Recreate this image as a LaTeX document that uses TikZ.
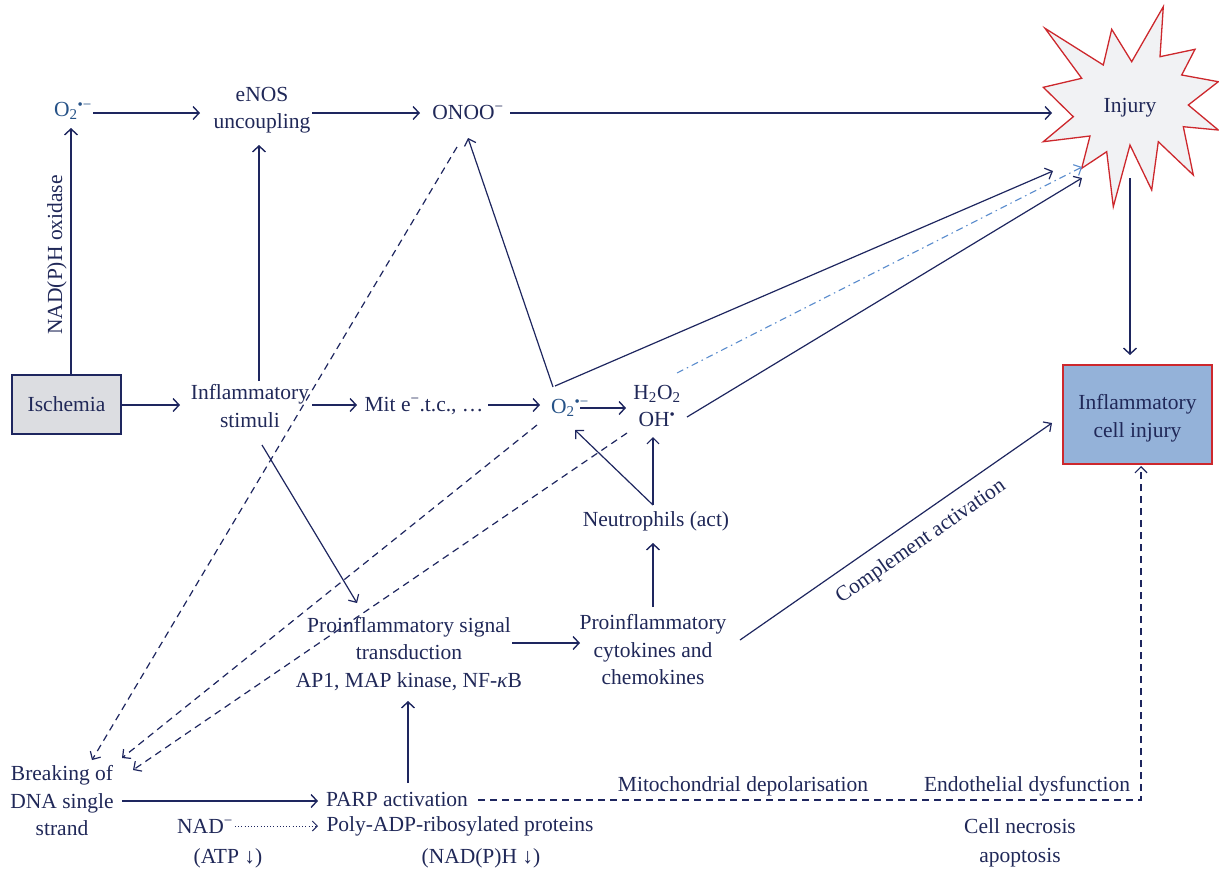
\documentclass[tikz,border=0pt]{standalone}
\usepackage{fontspec}
\setmainfont{Liberation Serif}
\usetikzlibrary{arrows.meta}
\definecolor{txt}{RGB}{32,40,88}
\definecolor{oxy}{RGB}{38,82,135}
\definecolor{ln}{RGB}{30,38,95}
\definecolor{dd}{RGB}{90,140,205}
\definecolor{starred}{RGB}{205,40,45}
\definecolor{starfill}{RGB}{241,242,244}
\definecolor{boxblue}{RGB}{148,178,217}
\definecolor{ischfill}{RGB}{220,221,225}
\begin{document}
\begin{tikzpicture}[x=1pt,y=-1pt,
  lbl/.style={text=txt, font=\fontsize{21.5}{27.5}\selectfont, align=center, inner sep=0pt},
  oxl/.style={lbl, text=oxy},
  arr/.style={draw=ln, line width=1.7pt, -{Straight Barb[length=6pt,width=13pt,line width=1.4pt]}},
  tarr/.style={draw=ln, line width=1.2pt, -{Straight Barb[length=6pt,width=12pt,line width=1.2pt]}},
  dsh/.style={tarr, dash pattern=on 7pt off 5pt},
  ddot/.style={draw=dd, line width=1.1pt, dash pattern=on 7pt off 4pt on 1.5pt off 4pt, -{Straight Barb[length=6pt,width=12pt,line width=1.1pt]}},
]
\useasboundingbox (0,0) rectangle (1219,871);
% star
\draw[starred, fill=starfill, line width=1.3pt, line join=miter]
 (1045,28.3) -- (1103.3,65) -- (1111.7,29.3) -- (1131.7,61.7) -- (1163.3,6.7) -- (1160,56.7)
 -- (1195,49.3) -- (1181.7,75) -- (1218.3,81.7) -- (1188.3,105) -- (1218.3,130) -- (1183.3,126.7)
 -- (1193.3,175) -- (1158.3,141.7) -- (1151.7,190) -- (1130,145) -- (1113.3,206.7) -- (1106.7,151.7)
 -- (1081.7,168.3) -- (1090,136) -- (1043.3,141.7) -- (1073.3,116.7) -- (1043.3,87.3) -- (1081.7,78.3) -- cycle;
\coordinate (injW) at (1052,113);
\coordinate (injA) at (1053,171);
\coordinate (injB) at (1082,167);
\coordinate (injC) at (1082,178);
\coordinate (injS) at (1130,178);
% nodes
\node[lbl] (inj) at (1130,108) {Injury};
\node[oxl] (o2a) at (73,111) {O\textsubscript{2}\textsuperscript{•−}};
\node[lbl] (enos) at (262,110) {eNOS\\uncoupling};
\node[lbl] (onoo) at (468,112) {ONOO\textsuperscript{−}};
\node[lbl, draw=ln, fill=ischfill, line width=1.3pt, minimum width=109pt, minimum height=59pt] (isch) at (66.5,404.5) {Ischemia};
\node[lbl] (infl) at (250,406) {Inflammatory\\stimuli};
\node[lbl] (mit) at (424,406) {Mit e\textsuperscript{−}.t.c., …};
\node[oxl] (o2b) at (570,408) {O\textsubscript{2}\textsuperscript{•−}};
\node[lbl] (h2o2) at (657,406) {H\textsubscript{2}O\textsubscript{2}\\OH\textsuperscript{•}};
\node[lbl] (neut) at (656,521) {Neutrophils (act)};
\node[lbl] (sig) at (409,654) {Proinflammatory signal\\transduction\\AP1, MAP kinase, NF-\textit{κ}B};
\node[lbl] (cyt) at (653,650) {Proinflammatory\\cytokines and\\chemokines};
\node[draw=starred, fill=boxblue, line width=1.3pt, minimum width=149pt, minimum height=99pt, inner sep=0pt] (icell) at (1137.5,414.5) {};
\node[lbl] (icelltxt) at (1137.5,418) {Inflammatory\\cell injury};
\node[lbl] (dna) at (62,801) {Breaking of\\DNA single\\strand};
\node[lbl] (parp) at (397,799) {PARP activation};
\node[lbl] (nad) at (205,826) {NAD\textsuperscript{−}};
\node[lbl] (poly) at (460,826) {Poly-ADP-ribosylated proteins};
\node[lbl] (atp) at (228,858) {(ATP ↓)};
\node[lbl] (nadph) at (481,858) {(NAD(P)H ↓)};
\node[lbl] (mito) at (743,786) {Mitochondrial depolarisation};
\node[lbl] (endo) at (1027,786) {Endothelial dysfunction};
\node[lbl] (necro) at (1020,826) {Cell necrosis};
\node[lbl] (apop) at (1020,858) {apoptosis};
\node[lbl, rotate=90] (nadox) at (57,255) {NAD(P)H oxidase};
\node[lbl, rotate=34.8] (compl) at (921,542) {Complement activation};
% connectors
\draw[arr] ([shift={(20,2)}]o2a.center) -- ([shift={(-62,3)}]enos.center);
\draw[arr] ([shift={(50,3)}]enos.center) -- ([shift={(-48,1)}]onoo.center);
\draw[arr] ([shift={(42,1)}]onoo.center) -- (injW);
\draw[arr] ([shift={(4.5,-29.5)}]isch.center) -- ([shift={(-2,17)}]o2a.center);
\draw[arr] ([shift={(54.5,0.5)}]isch.center) -- ([shift={(-70,-1)}]infl.center);
\draw[arr] ([shift={(9,-25)}]infl.center) -- ([shift={(-3,35)}]enos.center);
\draw[arr] ([shift={(62,-1)}]infl.center) -- ([shift={(-67,-1)}]mit.center);
\draw[arr] ([shift={(64,-1)}]mit.center) -- ([shift={(-30,-3)}]o2b.center);
\draw[arr] ([shift={(10,0)}]o2b.center) -- ([shift={(-31,2)}]h2o2.center);
\draw[tarr] ([shift={(-17,-21)}]o2b.center) -- ([shift={(0,26)}]onoo.center);
\draw[tarr] ([shift={(-15,-22)}]o2b.center) -- (injA);
\draw[ddot] ([shift={(20,-33)}]h2o2.center) -- (injB);
\draw[tarr] ([shift={(30,11)}]h2o2.center) -- (injC);
\draw[dsh] ([shift={(-11,35)}]onoo.center) -- ([shift={(30,-41)}]dna.center);
\draw[dsh] ([shift={(-33,17)}]o2b.center) -- ([shift={(60,-43)}]dna.center);
\draw[dsh] ([shift={(-30,27)}]h2o2.center) -- ([shift={(71,-31)}]dna.center);
\draw[tarr] ([shift={(12,39)}]infl.center) -- ([shift={(-52,-51)}]sig.center);
\draw[arr] ([shift={(11,-16)}]parp.center) -- ([shift={(-1,47)}]sig.center);
\draw[arr] ([shift={(103,-11)}]sig.center) -- ([shift={(-73,-7)}]cyt.center);
\draw[arr] ([shift={(0,-43)}]cyt.center) -- ([shift={(-3,22)}]neut.center);
\draw[tarr] ([shift={(-3,-16)}]neut.center) -- ([shift={(5,22)}]o2b.center);
\draw[tarr] ([shift={(-3,-16)}]neut.center) -- ([shift={(-4,31)}]h2o2.center);
\draw[tarr] ([shift={(87,-10)}]cyt.center) -- ([shift={(-85.5,8.5)}]icell.center);
\draw[arr] (injS) -- ([shift={(-7.5,-59.5)}]icell.center);
\draw[arr] ([shift={(60,0)}]dna.center) -- ([shift={(-79,2)}]parp.center);
\draw[draw=ln, line width=1.2pt, dash pattern=on 7pt off 5pt, -{Straight Barb[length=6pt,width=12pt,line width=1.2pt]}]
  ([shift={(81,1)}]parp.center) -| ([shift={(3.5,51.5)}]icell.center);
\draw[draw=ln, line width=1pt, dash pattern=on 1pt off 2.2pt, -{Straight Barb[length=5pt,width=10pt,line width=1pt]}]
  ([shift={(30,0)}]nad.center) -- ([shift={(-142,0)}]poly.center);
\end{tikzpicture}
\end{document}
